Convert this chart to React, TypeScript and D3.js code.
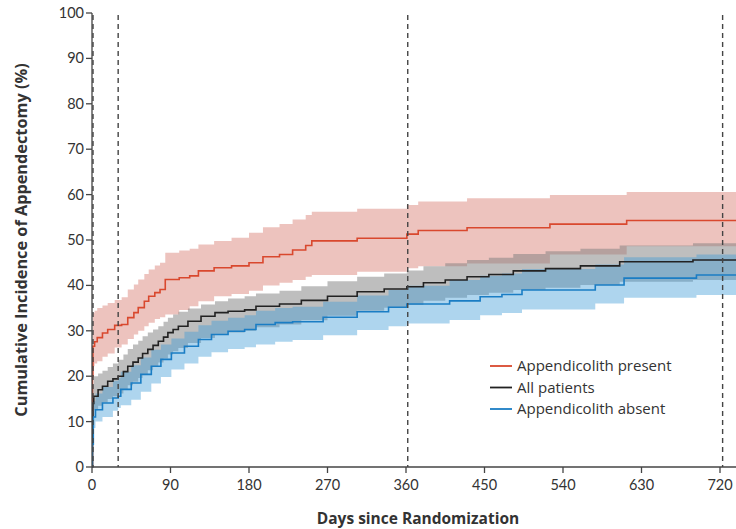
import React from "react";
import * as d3 from "d3";

// ---- data ----
const redDays = [0, 0.5, 1, 3, 6, 12, 18, 26, 34, 41, 48, 53, 60, 65, 72, 78, 84, 100, 112, 122, 140, 160, 180, 196, 215, 230, 245, 252, 304, 361, 374, 430, 525, 613, 740];
const redEst = [0, 20, 26.6, 27.6, 28.5, 29.5, 30.3, 31.2, 31.4, 32.9, 34.0, 35.1, 36.5, 37.6, 38.4, 39.1, 41.3, 41.7, 42.1, 43.2, 43.9, 44.3, 45.0, 46.3, 46.8, 47.8, 48.8, 49.8, 50.4, 51.3, 52.1, 52.7, 53.5, 54.3, 54.3];
const redLo = [0, 15, 22.2, 22.8, 23.3, 24.3, 25.0, 26.3, 27.0, 28.2, 29.2, 30.0, 31.0, 31.8, 32.6, 33.0, 33.6, 34.6, 35.4, 36.5, 37.6, 38.1, 38.8, 40.0, 40.6, 41.2, 41.9, 42.3, 43.0, 43.8, 44.2, 44.8, 46.8, 48.6, 49.3];
const redHi = [0, 27, 34.0, 34.4, 35.0, 35.6, 36.1, 36.8, 37.4, 39.1, 40.2, 41.3, 42.5, 43.5, 44.4, 45.0, 47.2, 47.7, 48.1, 49.0, 49.8, 50.5, 51.6, 52.8, 53.5, 54.5, 55.5, 56.2, 56.9, 57.7, 58.5, 59.2, 59.9, 60.6, 60.6];

const allDays = [0, 0.5, 1, 2, 7, 12, 18, 24, 30, 36, 41, 47, 53, 58, 64, 70, 76, 82, 87, 93, 99, 110, 125, 141, 156, 175, 188, 215, 240, 270, 304, 335, 361, 380, 405, 430, 455, 483, 520, 560, 605, 689, 740];
const allEst = [0, 9, 14.0, 15.6, 17.0, 17.8, 18.9, 19.4, 20.0, 21.0, 22.2, 23.1, 24.0, 25.0, 25.9, 26.8, 27.7, 28.6, 29.6, 30.3, 31.0, 32.1, 33.2, 34.0, 34.3, 34.6, 35.4, 35.9, 36.7, 37.6, 38.6, 39.2, 39.7, 40.6, 41.2, 41.9, 42.4, 43.2, 43.7, 44.3, 45.2, 45.6, 45.6];
const allLo = [0, 6, 11, 12.5, 13.5, 14.2, 15.0, 15.6, 16.2, 17.0, 18.0, 18.8, 19.6, 20.5, 21.3, 22.2, 23.0, 23.9, 24.8, 25.5, 26.2, 27.3, 28.4, 29.2, 29.6, 30.0, 30.8, 31.4, 32.3, 33.3, 34.4, 35.1, 35.7, 36.6, 37.3, 37.9, 38.4, 39.0, 39.5, 40.1, 40.8, 41.2, 41.2];
const allHi = [0, 12, 18, 20.0, 20.6, 21.2, 22.0, 22.8, 23.6, 24.8, 26.0, 27.0, 27.8, 28.8, 29.6, 30.3, 31.0, 32.0, 32.9, 33.6, 34.2, 34.9, 35.8, 36.5, 37.1, 37.6, 38.2, 38.8, 39.8, 40.9, 41.9, 42.6, 43.3, 44.2, 44.9, 45.6, 46.1, 46.9, 47.5, 48.1, 48.8, 49.3, 49.3];

const absDays = [0, 0.5, 1.5, 4, 12, 24, 30, 33, 45, 56, 68, 79, 91, 106, 122, 137, 156, 175, 188, 210, 230, 265, 304, 340, 361, 410, 445, 470, 493, 577, 610, 693, 740];
const absEst = [0, 5, 11.0, 12.6, 14.1, 15.2, 15.6, 17.1, 18.5, 20.4, 22.2, 23.7, 25.1, 26.6, 28.1, 29.2, 29.9, 30.3, 31.4, 31.8, 32.0, 33.0, 34.2, 35.2, 35.9, 36.6, 37.5, 38.0, 39.0, 40.1, 41.6, 42.3, 42.3];
const absLo = [0, 3, 8.6, 10.0, 11.0, 12.4, 13.0, 13.6, 14.8, 16.6, 18.4, 19.8, 21.5, 22.8, 24.3, 25.3, 26.0, 26.4, 27.0, 27.6, 28.0, 29.0, 30.2, 31.0, 31.6, 32.4, 33.4, 33.9, 34.7, 36.0, 37.3, 37.9, 37.9];
const absHi = [0, 8, 14.5, 16.2, 17.6, 19.0, 19.6, 21.0, 22.4, 24.1, 25.8, 27.0, 28.3, 29.8, 31.2, 32.2, 32.9, 33.4, 34.4, 35.0, 35.3, 36.4, 37.8, 39.0, 39.9, 41.2, 42.1, 42.6, 43.6, 44.6, 46.2, 46.8, 46.8];

const xTicks = [0, 90, 180, 270, 360, 450, 540, 630, 720];
const yTicks = [0, 10, 20, 30, 40, 50, 60, 70, 80, 90, 100];
const refDays = [0, 30, 362, 723];
const legendLabels = ["Appendicolith present", "All patients", "Appendicolith absent"];

const W = 736;
const H = 529;
const FONT = "Lato, 'Open Sans', sans-serif";

type Row = { d: number; e: number; lo: number; hi: number };
const rows = (d: number[], e: number[], lo: number[], hi: number[]): Row[] =>
  d.map((v, i) => ({ d: v, e: e[i], lo: lo[i], hi: hi[i] }));

export default function App() {
  const x = d3.scaleLinear().domain([0, 720]).range([92, 720]);
  const y = d3.scaleLinear().domain([0, 100]).range([467, 13]);

  const series = [
    { data: rows(redDays, redEst, redLo, redHi), line: "#d9482e", fill: "#d77a6e", op: 0.45 },
    { data: rows(allDays, allEst, allLo, allHi), line: "#222222", fill: "#7d7d7d", op: 0.5 },
    { data: rows(absDays, absEst, absLo, absHi), line: "#1a7dc4", fill: "#3d9bd6", op: 0.42 },
  ];

  const area = d3
    .area<Row>()
    .x((r) => x(r.d))
    .y0((r) => y(r.lo))
    .y1((r) => y(r.hi))
    .curve(d3.curveStepAfter);
  const line = d3
    .line<Row>()
    .x((r) => x(r.d))
    .y((r) => y(r.e))
    .curve(d3.curveStepAfter);

  return (
    <svg
      width={W}
      height={H}
      style={{ position: "absolute", left: 0, top: 0, background: "#fff" }}
      fontFamily={FONT}
    >
      <defs>
        <clipPath id="plot">
          <rect x={92} y={0} width={W - 92} height={468} />
        </clipPath>
      </defs>
      <g clipPath="url(#plot)">
        {series.map((s, i) => (
          <path key={"a" + i} d={area(s.data) || ""} fill={s.fill} fillOpacity={s.op} />
        ))}
        {series.map((s, i) => (
          <path key={"l" + i} d={line(s.data) || ""} fill="none" stroke={s.line} strokeWidth={1.6} />
        ))}
      </g>
      {refDays.map((d) => (
        <line
          key={"r" + d}
          x1={x(d) + (d === 0 ? 1 : 0)}
          x2={x(d) + (d === 0 ? 1 : 0)}
          y1={y(100) + 2}
          y2={y(0)}
          stroke="#444"
          strokeWidth={1.4}
          strokeDasharray="5,4"
        />
      ))}
      {/* axes */}
      <line x1={92} x2={92} y1={y(100)} y2={y(0)} stroke="#444" strokeWidth={1.3} />
      <line x1={92} x2={W} y1={y(0)} y2={y(0)} stroke="#444" strokeWidth={1.3} />
      {yTicks.map((t) => (
        <g key={"y" + t}>
          <line x1={86} x2={92} y1={y(t)} y2={y(t)} stroke="#444" strokeWidth={1.3} />
          <text x={84} y={y(t)} dy="0.35em" textAnchor="end" fontSize={14.5} fill="#333">
            {t}
          </text>
        </g>
      ))}
      {xTicks.map((t) => (
        <g key={"x" + t}>
          <line x1={x(t)} x2={x(t)} y1={y(0)} y2={y(0) + 6} stroke="#444" strokeWidth={1.3} />
          <text x={x(t)} y={490} textAnchor="middle" fontSize={14.5} fill="#333">
            {t}
          </text>
        </g>
      ))}
      <text
        transform={`translate(27,${240}) rotate(-90)`}
        textAnchor="middle"
        fontSize={16.3}
        fontWeight="bold"
        fill="#333"
        fontFamily="'Open Sans', sans-serif"
      >
        Cumulative Incidence of Appendectomy (%)
      </text>
      <text
        x={418}
        y={524}
        textAnchor="middle"
        fontSize={15.5}
        fontWeight="bold"
        fill="#333"
        fontFamily="'Open Sans', sans-serif"
      >
        Days since Randomization
      </text>
      {/* legend */}
      {legendLabels.map((lab, i) => (
        <g key={lab} transform={`translate(490,${366 + i * 21.5})`}>
          <line x1={0} x2={22} y1={0} y2={0} stroke={series[i].line} strokeWidth={1.8} />
          <text x={27} y={0} dy="0.35em" fontSize={15} fill="#333" fontFamily="'Open Sans', sans-serif">
            {lab}
          </text>
        </g>
      ))}
    </svg>
  );
}
